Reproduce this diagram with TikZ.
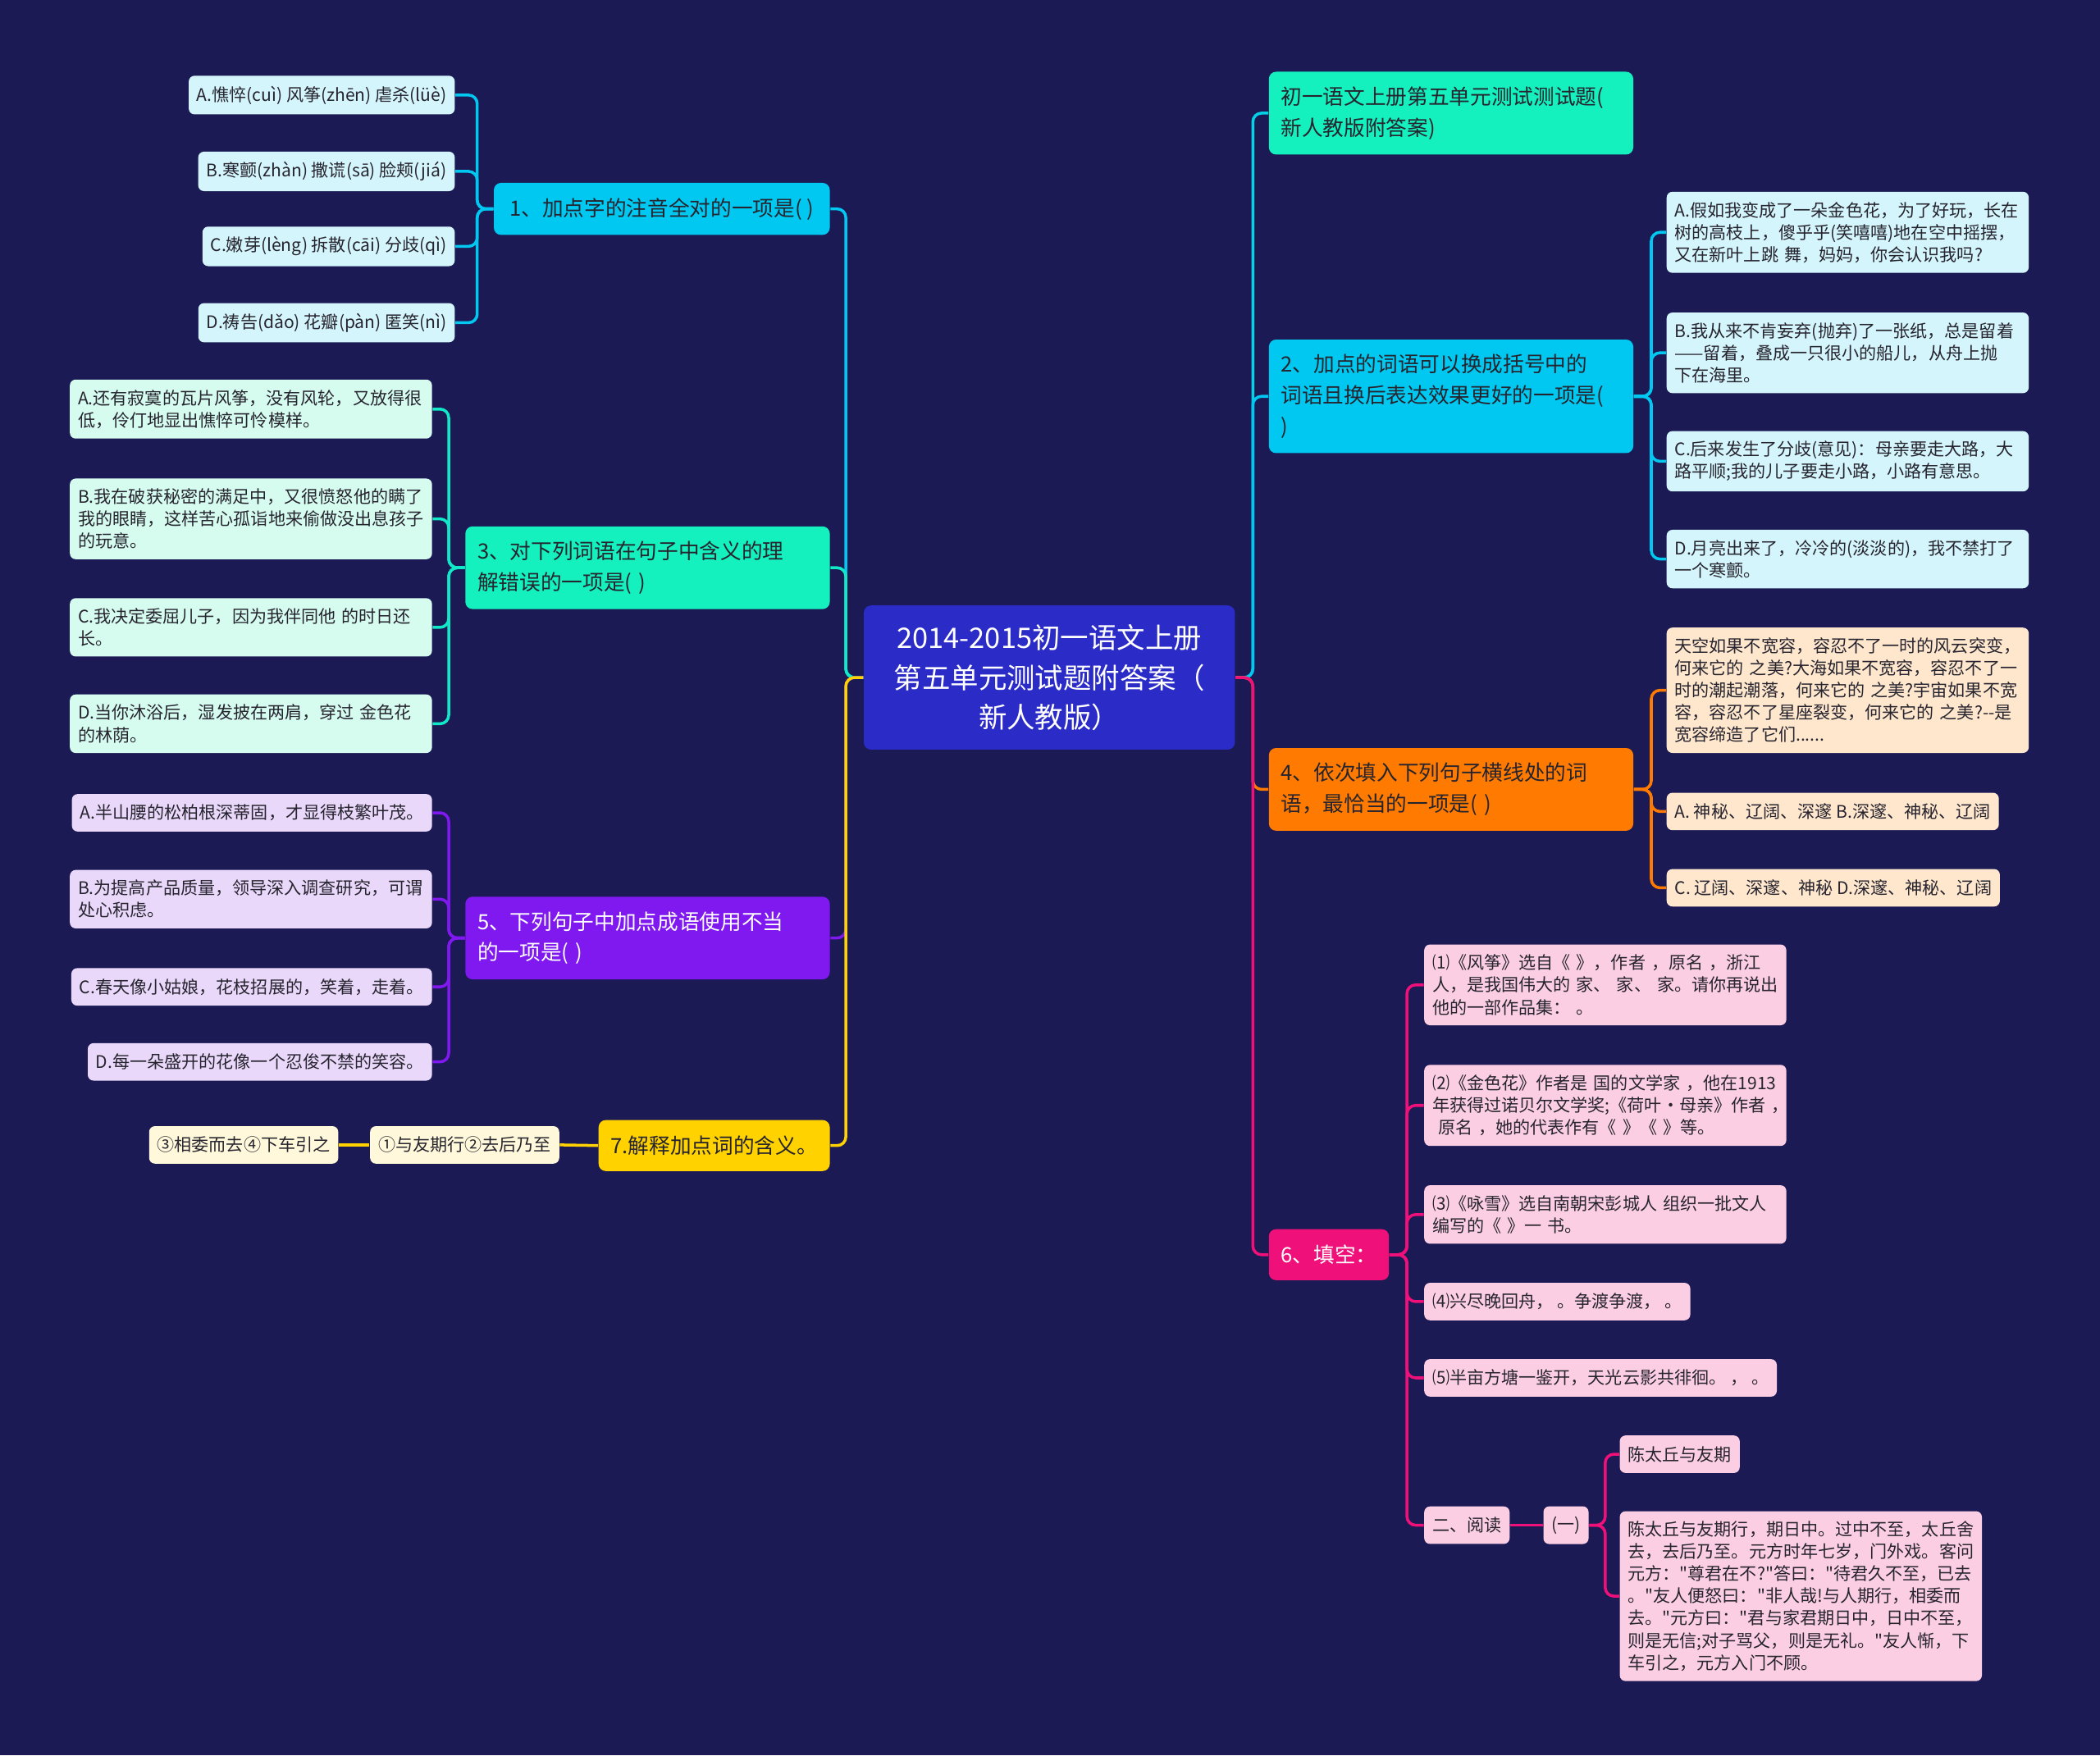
\documentclass[tikz,border=0pt]{standalone}
\usepackage{fontspec}
\setmainfont{Noto Sans CJK SC}[Ligatures=TeXOff]
\definecolor{bgnavy}{RGB}{27,26,84}
\definecolor{rootblue}{RGB}{43,43,200}
\definecolor{brcyan}{RGB}{0,200,240}
\definecolor{lfcyan}{RGB}{212,245,252}
\definecolor{braqua}{RGB}{20,240,190}
\definecolor{lfaqua}{RGB}{214,252,240}
\definecolor{brpurple}{RGB}{128,24,240}
\definecolor{lfpurple}{RGB}{233,216,250}
\definecolor{bryellow}{RGB}{255,210,0}
\definecolor{lfyellow}{RGB}{255,248,218}
\definecolor{brorange}{RGB}{255,122,0}
\definecolor{lforange}{RGB}{255,231,206}
\definecolor{brpink}{RGB}{240,16,122}
\definecolor{lfpink}{RGB}{252,206,228}
\definecolor{txtdark}{RGB}{38,36,46}

\begin{document}
\begin{tikzpicture}[
  x=0.016327cm, y=-0.016327cm,
  root/.style={fill=rootblue, rounded corners=2.5pt, text=white, align=center,
    font=\fontsize{9.8}{13.7}\selectfont, minimum width=128.7pt, minimum height=50pt, inner sep=0pt},
  branch/.style={rounded corners=2.5pt, text=txtdark, font=\fontsize{7.3}{10.7}\selectfont,
    inner xsep=4.2pt, inner ysep=5.2pt, minimum height=17.7pt},
  brwide/.style={branch, text width=118pt, align=left},
  leaf/.style={rounded corners=2pt, text=txtdark, font=\fontsize{6}{7.7}\selectfont,
    inner xsep=2.8pt, inner ysep=3.5pt, minimum height=13pt},
  leafwide/.style={leaf, text width=120pt, align=left},
  link/.style={line width=1pt, rounded corners=3pt},
]
\fill[bgnavy] (0,0) rectangle (1568,1311);

% centre
\node[root] (root) at (783.5,506) {2014-2015初一语文上册\\第五单元测试题附答案（\\新人教版）};

% left side
\node[branch, fill=brcyan, anchor=east, inner xsep=5.5pt] (q1) at (620,156) {1、加点字的注音全对的一项是( )};
\node[leaf, fill=lfcyan, anchor=east] (q1a) at (340,71) {A.憔悴(cuì) 风筝(zhēn) 虐杀(lüè)};
\node[leaf, fill=lfcyan, anchor=east] (q1b) at (340,128) {B.寒颤(zhàn) 撒谎(sā) 脸颊(jiá)};
\node[leaf, fill=lfcyan, anchor=east] (q1c) at (340,184) {C.嫩芽(lèng) 拆散(cāi) 分歧(qì)};
\node[leaf, fill=lfcyan, anchor=east] (q1d) at (340,241) {D.祷告(dǎo) 花瓣(pàn) 匿笑(nì)};

\node[brwide, fill=braqua, anchor=east] (q3) at (620,424) {3、对下列词语在句子中含义的理\\解错误的一项是( )};
\node[leafwide, fill=lfaqua, anchor=east] (q3a) at (323,305.5) {A.还有寂寞的瓦片风筝，没有风轮，又放得很\\低，伶仃地显出憔悴可怜模样。};
\node[leafwide, fill=lfaqua, anchor=east] (q3b) at (323,387.5) {B.我在破获秘密的满足中，又很愤怒他的瞒了\\我的眼睛，这样苦心孤诣地来偷做没出息孩子\\的玩意。};
\node[leafwide, fill=lfaqua, anchor=east] (q3c) at (323,468.5) {C.我决定委屈儿子，因为我伴同他 的时日还\\长。};
\node[leafwide, fill=lfaqua, anchor=east] (q3d) at (323,540.5) {D.当你沐浴后，湿发披在两肩，穿过 金色花\\的林荫。};

\node[brwide, fill=brpurple, text=white, anchor=east] (q5) at (620,700.5) {5、下列句子中加点成语使用不当\\的一项是( )};
\node[leaf, fill=lfpurple, anchor=east] (q5a) at (323,607) {A.半山腰的松柏根深蒂固，才显得枝繁叶茂。};
\node[leafwide, fill=lfpurple, anchor=east] (q5b) at (323,671.5) {B.为提高产品质量，领导深入调查研究，可谓\\处心积虑。};
\node[leaf, fill=lfpurple, anchor=east] (q5c) at (323,737) {C.春天像小姑娘，花枝招展的，笑着，走着。};
\node[leaf, fill=lfpurple, anchor=east] (q5d) at (323,793) {D.每一朵盛开的花像一个忍俊不禁的笑容。};

\node[branch, fill=bryellow, anchor=east] (q7) at (620,855.5) {7.解释加点词的含义。};
\node[leaf, fill=lfyellow, anchor=east] (q7a) at (418,855) {①与友期行②去后乃至};
\node[leaf, fill=lfyellow, anchor=east] (q7b) at (253,855) {③相委而去④下车引之};

% right side
\node[brwide, fill=braqua, anchor=west] (tt) at (947,84.5) {初一语文上册第五单元测试测试题(\\新人教版附答案)};

\node[brwide, fill=brcyan, anchor=west] (q2) at (947,296) {2、加点的词语可以换成括号中的\\词语且换后表达效果更好的一项是(\\)};
\node[leafwide, fill=lfcyan, anchor=west] (q2a) at (1244,173.5) {A.假如我变成了一朵金色花，为了好玩，长在\\树的高枝上，傻乎乎(笑嘻嘻)地在空中摇摆，\\又在新叶上跳 舞，妈妈，你会认识我吗?};
\node[leafwide, fill=lfcyan, anchor=west] (q2b) at (1244,263.5) {B.我从来不肯妄弃(抛弃)了一张纸，总是留着\\——留着，叠成一只很小的船儿，从舟上抛\\下在海里。};
\node[leafwide, fill=lfcyan, anchor=west] (q2c) at (1244,344.5) {C.后来发生了分歧(意见)：母亲要走大路，大\\路平顺;我的儿子要走小路，小路有意思。};
\node[leafwide, fill=lfcyan, anchor=west] (q2d) at (1244,417.5) {D.月亮出来了，冷冷的(淡淡的)，我不禁打了\\一个寒颤。};

\node[brwide, fill=brorange, anchor=west] (q4) at (947,589.5) {4、依次填入下列句子横线处的词\\语，最恰当的一项是( )};
\node[leafwide, fill=lforange, anchor=west] (q4a) at (1244,515.5) {天空如果不宽容，容忍不了一时的风云突变，\\何来它的 之美?大海如果不宽容，容忍不了一\\时的潮起潮落，何来它的 之美?宇宙如果不宽\\容，容忍不了星座裂变，何来它的 之美?--是\\宽容缔造了它们......};
\node[leaf, fill=lforange, anchor=west] (q4b) at (1244,606) {A. 神秘、辽阔、深邃 B.深邃、神秘、辽阔};
\node[leaf, fill=lforange, anchor=west] (q4c) at (1244,663) {C. 辽阔、深邃、神秘 D.深邃、神秘、辽阔};

\node[branch, fill=brpink, text=white, anchor=west] (q6) at (947,937) {6、填空：};
\node[leafwide, fill=lfpink, anchor=west] (q6a) at (1063,735.5) {⑴《风筝》选自《 》，作者 ，原名 ，浙江\\人，是我国伟大的 家、 家、 家。请你再说出\\他的一部作品集： 。};
\node[leafwide, fill=lfpink, anchor=west] (q6b) at (1063,825.5) {⑵《金色花》作者是 国的文学家 ，他在1913\\年获得过诺贝尔文学奖;《荷叶•母亲》作者~，\\\ 原名 ，她的代表作有《 》《 》等。};
\node[leafwide, fill=lfpink, anchor=west] (q6c) at (1063,907) {⑶《咏雪》选自南朝宋彭城人 组织一批文人\\编写的《 》一 书。};
\node[leaf, fill=lfpink, anchor=west] (q6d) at (1063,972) {⑷兴尽晚回舟， 。争渡争渡， 。};
\node[leaf, fill=lfpink, anchor=west] (q6e) at (1063,1029) {⑸半亩方塘一鉴开，天光云影共徘徊。 ， 。};
\node[leaf, fill=lfpink, anchor=west] (read) at (1063,1139) {二、阅读};
\node[leaf, fill=lfpink, anchor=west] (read1) at (1152,1139) {(一)};
\node[leaf, fill=lfpink, anchor=west] (readt) at (1209,1086) {陈太丘与友期};
\node[leafwide, fill=lfpink, anchor=west] (readx) at (1209,1192) {陈太丘与友期行，期日中。过中不至，太丘舍\\去，去后乃至。元方时年七岁，门外戏。客问\\元方："尊君在不?"答曰："待君久不至，已去\\。"友人便怒曰："非人哉!与人期行，相委而\\去。"元方曰："君与家君期日中，日中不至，\\则是无信;对子骂父，则是无礼。"友人惭，下\\车引之，元方入门不顾。};

% connectors
\draw[link, brcyan] (root.west) -- ++(-13,0) |- (q1.east);
\draw[link, braqua!85!brcyan] (root.west) -- ++(-13,0) |- (q3.east);
\draw[link, brpurple] (root.west) -- ++(-13,0) |- (q5.east);
\draw[link, bryellow] (root.west) -- ++(-13,0) |- (q7.east);
\foreach \c in {q1a,q1b,q1c,q1d}
  \draw[link, brcyan] (q1.west) -- ++(-12,0) |- (\c.east);
\foreach \c in {q3a,q3b,q3c,q3d}
  \draw[link, braqua!80!brcyan] (q3.west) -- ++(-12,0) |- (\c.east);
\foreach \c in {q5a,q5b,q5c,q5d}
  \draw[link, brpurple] (q5.west) -- ++(-12,0) |- (\c.east);
\draw[link, bryellow] (q7.west) -- (q7a.east);
\draw[link, bryellow] (q7a.west) -- (q7b.east);

\draw[link, brcyan!80!braqua] (root.east) -- ++(13,0) |- (tt.west);
\draw[link, brcyan] (root.east) -- ++(13,0) |- (q2.west);
\draw[link, brorange] (root.east) -- ++(13,0) |- (q4.west);
\draw[link, brpink] (root.east) -- ++(13,0) |- (q6.west);
\foreach \c in {q2a,q2b,q2c,q2d}
  \draw[link, brcyan] (q2.east) -- ++(13,0) |- (\c.west);
\foreach \c in {q4a,q4b,q4c}
  \draw[link, brorange] (q4.east) -- ++(13,0) |- (\c.west);
\foreach \c in {q6a,q6b,q6c,q6d,q6e,read}
  \draw[link, brpink] (q6.east) -- ++(13,0) |- (\c.west);
\draw[link, brpink] (read.east) -- (read1.west);
\foreach \c in {readt,readx}
  \draw[link, brpink] (read1.east) -- ++(12,0) |- (\c.west);
\end{tikzpicture}
\end{document}
